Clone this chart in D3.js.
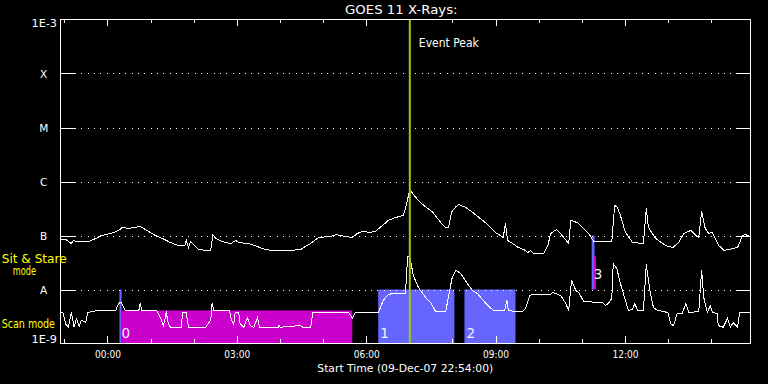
<!DOCTYPE html>
<html>
<head>
<meta charset="utf-8">
<script src="https://cdn.jsdelivr.net/npm/d3@7"></script>
<style>
  html, body { margin: 0; padding: 0; background: #000; }
  svg { display: block; }
  text { font-family: "DejaVu Sans", sans-serif; }
</style>
</head>
<body>
<svg id="chart" width="768" height="384"></svg>
<script>
// ---- Data (time in minutes after 09-Dec-07 22:54:00 UT, flux in W/m^2) ----
const title = "GOES 11 X-Rays:";
const xAxisTitle = "Start Time (09-Dec-07 22:54:00)";
const startUTC = Date.UTC(2007, 11, 9, 22, 54, 0);
const durationMinutes = 960;

const yTickValues = [1e-3, 1e-4, 1e-5, 1e-6, 1e-7, 1e-8, 1e-9];
const yTickLabels = ["1E-3", "X", "M", "C", "B", "A", "1E-9"];
const gridValues = [1e-4, 1e-5, 1e-6, 1e-7, 1e-8];

// long channel (1-8 A)
const longTimes = [0,8,11,15,18,22,39,49,57,70,81,86,95,103,111,118,125,132,142,153,164,173,175,178,181,188,192,202,209,212,216,225,237,244,248,262,271,281,292,306,320,334,341,348,359,376,383,397,406,413,420,431,438,448,456,466,477,481,486,490,498,508,518,529,536,540,544,550,554,564,573,591,605,616,619,622,629,637,647,650,654,658,672,678,682,690,698,707,710,715,721,726,735,742,761,767,771,775,779,786,796,811,815,818,828,842,852,860,867,877,884,888,892,897,902,907,916,923,935,942,949,953,960];
const longFlux = [8.4e-8,8.4e-8,7.7e-8,7.1e-8,8.1e-8,7.7e-8,7.7e-8,8.8e-8,1.0e-7,1.09e-7,1.24e-7,1.41e-7,1.35e-7,1.41e-7,1.47e-7,1.29e-7,1.14e-7,1.0e-7,8.8e-8,7.4e-8,6.5e-8,6.5e-8,8.1e-8,6.0e-8,7.7e-8,6.3e-8,5.5e-8,5.3e-8,5.3e-8,1.04e-7,8.8e-8,7.7e-8,7.1e-8,8.1e-8,7.4e-8,7.1e-8,6.5e-8,5.7e-8,5.3e-8,5.3e-8,5.3e-8,5.5e-8,6.3e-8,7.1e-8,9.2e-8,9.6e-8,1.04e-7,9.6e-8,9.2e-8,1.09e-7,1.19e-7,1.14e-7,1.19e-7,1.53e-7,1.9e-7,2.15e-7,2.35e-7,3.6e-7,7.1e-7,6.0e-7,4.4e-7,3.4e-7,2.7e-7,1.74e-7,1.41e-7,1.41e-7,2.7e-7,3.4e-7,3.75e-7,3.3e-7,2.7e-7,1.74e-7,1.14e-7,9.2e-8,1.67e-7,8.1e-8,7.1e-8,6.0e-8,5.3e-8,4.8e-8,5.3e-8,4.6e-8,4.6e-8,6.5e-8,1.09e-7,1.29e-7,1.0e-7,7.1e-8,1.9e-7,1.82e-7,1.67e-7,1.41e-7,1.09e-7,7.7e-8,7.7e-8,7.7e-8,3.6e-7,3.3e-7,2.35e-7,1.14e-7,7.4e-8,7.1e-8,3.2e-7,1.41e-7,8.8e-8,6.5e-8,6.0e-8,7.4e-8,1.09e-7,1.24e-7,1.0e-7,9.2e-8,2.8e-7,1.35e-7,1.09e-7,1.14e-7,6.5e-8,5.3e-8,5.7e-8,6.0e-8,1.0e-7,1.04e-7,9.6e-8];

// short channel (0.5-4 A)
const shortTimes = [0,4,7,11,15,19,22,26,29,35,38,43,53,77,78,82,85,88,90,109,111,113,134,139,143,146,147,150,153,168,170,175,178,202,205,209,211,213,235,238,241,243,248,250,255,260,264,269,274,277,303,304,306,334,337,348,351,401,406,410,442,445,449,456,462,480,481,483,486,487,491,498,508,515,522,536,540,545,550,557,563,573,580,591,602,618,621,623,633,643,647,653,657,682,685,696,703,707,711,717,721,728,754,758,762,767,769,774,779,786,790,796,799,803,811,815,820,825,831,845,849,853,858,865,870,874,888,892,895,900,904,907,914,915,922,928,932,936,942,945,960];
const shortFlux = [3.9e-9,3.6e-9,2.3e-9,2.0e-9,3.75e-9,2.0e-9,2.9e-9,2.1e-9,2.7e-9,2.45e-9,3.75e-9,3.9e-9,4.1e-9,4.1e-9,4.6e-9,5.7e-9,5.7e-9,4.6e-9,4.1e-9,4.1e-9,5.7e-9,4.1e-9,4.1e-9,3.0e-9,2.15e-9,3.0e-9,3.9e-9,2.3e-9,2.0e-9,2.0e-9,3.75e-9,3.75e-9,2.0e-9,2.0e-9,2.3e-9,2.7e-9,5.7e-9,4.1e-9,4.1e-9,2.7e-9,2.3e-9,3.75e-9,3.75e-9,2.3e-9,2.0e-9,3.0e-9,2.15e-9,2.0e-9,3.0e-9,2.0e-9,2.0e-9,2.15e-9,2.0e-9,2.15e-9,2.0e-9,2.0e-9,3.75e-9,3.75e-9,2.9e-9,3.75e-9,3.75e-9,4.6e-9,6.3e-9,8.1e-9,8.4e-9,8.4e-9,1.47e-8,4.1e-8,3.9e-8,3.4e-8,1.8e-8,1.09e-8,7.1e-9,5.7e-9,3.9e-9,3.9e-9,7.7e-9,1.67e-8,2.25e-8,1.98e-8,1.47e-8,9.6e-9,8.4e-9,5.7e-9,4.1e-9,4.1e-9,6.5e-9,4.1e-9,3.9e-9,3.9e-9,4.45e-9,7.7e-9,8.1e-9,8.1e-9,8.8e-9,7.7e-9,5.5e-9,4.1e-9,1.47e-8,9.6e-9,8.8e-9,6.0e-9,5.7e-9,5.05e-9,5.5e-9,6.8e-9,3.0e-8,2.45e-8,1.29e-8,6.3e-9,4.1e-9,4.3e-9,5.5e-9,4.1e-9,4.1e-9,2.9e-8,9.6e-9,4.6e-9,4.1e-9,3.75e-9,2.3e-9,2.15e-9,3.6e-9,3.6e-9,5.5e-9,3.75e-9,3.9e-9,2.25e-8,7.1e-9,3.75e-9,5.05e-9,3.75e-9,3.6e-9,2.15e-9,2.0e-9,2.9e-9,2.0e-9,2.45e-9,2.0e-9,3.75e-9,3.75e-9];

// observation modes: rows of the plot
const modeNames = ["scan", "sit"];
const modeLow = [1e-9, 1e-8];
const modeHigh = [1e-8, 1e-7];
const modeFilledTop = [4.1e-9, 4.1e-8];

// observation intervals (blue) and data coverage (magenta)
const obsLabels = ["0", "1", "2", "3"];
const obsMode = ["scan", "scan", "scan", "sit"];
const obsStart = [82, 442, 562, 739];
const obsEnd = [85, 548, 633, 743];
const fillMode = ["scan", "sit"];
const fillStart = [85, 742];
const fillEnd = [406, 745];

const eventPeakMinute = 486;
const eventLabel = "Event Peak";

// ---- Drawing ----
const svg = d3.select("#chart");
svg.append("rect").attr("width", 768).attr("height", 384).attr("fill", "#000");

const toDate = m => new Date(startUTC + m * 60000);
const x = d3.scaleUtc().domain([toDate(0), toDate(durationMinutes)]).range([60.5, 750.5]);
const y = d3.scaleLog().domain([1e-9, 1e-3]).range([343.5, 19.5]);

const blue = "#6666ff", magenta = "#cc00cc", peakColor = "#9ccc00";

// blue observation bands
svg.append("g").selectAll("rect").data(obsStart.map((s, i) => i)).join("rect")
  .attr("x", i => x(toDate(obsStart[i])))
  .attr("width", i => x(toDate(obsEnd[i])) - x(toDate(obsStart[i])))
  .attr("y", i => y(modeHigh[modeNames.indexOf(obsMode[i])]))
  .attr("height", i => { const m = modeNames.indexOf(obsMode[i]); return y(modeLow[m]) - y(modeHigh[m]); })
  .attr("fill", blue);

// magenta coverage bands
svg.append("g").selectAll("rect").data(fillStart.map((s, i) => i)).join("rect")
  .attr("x", i => x(toDate(fillStart[i])))
  .attr("width", i => x(toDate(fillEnd[i])) - x(toDate(fillStart[i])))
  .attr("y", i => y(modeFilledTop[modeNames.indexOf(fillMode[i])]))
  .attr("height", i => { const m = modeNames.indexOf(fillMode[i]); return y(modeLow[m]) - y(modeFilledTop[m]); })
  .attr("fill", magenta);

// band labels
svg.append("g").selectAll("text").data(obsLabels.map((s, i) => i)).join("text")
  .attr("x", i => x(toDate(obsStart[i])) + 2)
  .attr("y", i => obsMode[i] === "scan" ? y(modeLow[0]) - 6 : y(modeLow[1]) - 11)
  .attr("fill", "#f0f0ff").attr("font-size", 13.5)
  .text(i => obsLabels[i]);

// dotted grid lines
svg.append("g").selectAll("line").data(gridValues).join("line")
  .attr("x1", 75).attr("x2", 736)
  .attr("y1", d => Math.round(y(d)) + 0.5).attr("y2", d => Math.round(y(d)) + 0.5)
  .attr("stroke", "#fff").attr("stroke-width", 1).attr("stroke-dasharray", "1,5.3")
  .attr("shape-rendering", "crispEdges");

// major y ticks (left and right, inward)
const ticksG = svg.append("g").attr("stroke", "#fff").attr("shape-rendering", "crispEdges");
gridValues.forEach(v => {
  const yy = Math.round(y(v)) + 0.5;
  ticksG.append("line").attr("x1", 60).attr("x2", 75).attr("y1", yy).attr("y2", yy);
  ticksG.append("line").attr("x1", 736).attr("x2", 750).attr("y1", yy).attr("y2", yy);
});

// x ticks (hourly, top and bottom, inward)
const hours = d3.utcHour.range(toDate(0), toDate(durationMinutes));
hours.forEach(h => {
  const xx = Math.round(x(h) - 0.5) + 0.5;
  const len = h.getUTCHours() % 3 === 0 ? 7 : 4;
  ticksG.append("line").attr("x1", xx).attr("x2", xx).attr("y1", 343).attr("y2", 343 - len);
  ticksG.append("line").attr("x1", xx).attr("x2", xx).attr("y1", 19).attr("y2", 19 + len);
});

// flux curves
const line = d3.line().x(d => x(toDate(d[0]))).y(d => y(d[1]));
const longData = longTimes.map((t, i) => [t, longFlux[i]]);
const shortData = shortTimes.map((t, i) => [t, shortFlux[i]]);
[longData, shortData].forEach(data => {
  svg.append("path").datum(data).attr("d", line)
    .attr("fill", "none").attr("stroke", "#fff").attr("stroke-width", 1)
    .attr("stroke-linejoin", "miter").attr("shape-rendering", "crispEdges");
});

// event peak line
const px = x(toDate(eventPeakMinute));
svg.append("line").attr("x1", px).attr("x2", px).attr("y1", 19).attr("y2", 343)
  .attr("stroke", peakColor).attr("stroke-width", 2);
svg.append("text").attr("x", px + 9).attr("y", 46.5).attr("fill", "#fff")
  .attr("font-size", 12).attr("textLength", 60).attr("lengthAdjust", "spacingAndGlyphs")
  .text(eventLabel);

// frame
svg.append("rect").attr("x", 60.5).attr("y", 19.5).attr("width", 690).attr("height", 324)
  .attr("fill", "none").attr("stroke", "#fff").attr("shape-rendering", "crispEdges");

// y labels
svg.append("g").selectAll("text").data(yTickValues).join("text")
  .attr("x", (d, i) => (i === 0 || i === yTickValues.length - 1) ? 57 : 43.7)
  .attr("y", (d, i) => i === 0 ? y(d) + 7.3 : (i === yTickValues.length - 1 ? y(d) - 0.5 : y(d) + 4.5))
  .attr("text-anchor", (d, i) => (i === 0 || i === yTickValues.length - 1) ? "end" : "middle")
  .attr("fill", "#fff").attr("font-size", 10.5)
  .each(function (d, i) {
    if (i === 0 || i === yTickValues.length - 1) d3.select(this).attr("textLength", 25.5).attr("lengthAdjust", "spacingAndGlyphs");
  })
  .text((d, i) => yTickLabels[i]);

// x tick labels
const fmt = d3.utcFormat("%H:%M");
svg.append("g").selectAll("text").data(hours.filter(h => h.getUTCHours() % 3 === 0)).join("text")
  .attr("x", d => x(d)).attr("y", 358.3).attr("text-anchor", "middle")
  .attr("fill", "#fff").attr("font-size", 10)
  .attr("textLength", 26).attr("lengthAdjust", "spacingAndGlyphs")
  .text(d => fmt(d));

// axis title and chart title
svg.append("text").attr("x", 405.3).attr("y", 372.3).attr("text-anchor", "middle")
  .attr("fill", "#fff").attr("font-size", 11)
  .attr("textLength", 176).attr("lengthAdjust", "spacingAndGlyphs").text(xAxisTitle);
svg.append("text").attr("x", 401.3).attr("y", 14).attr("text-anchor", "middle")
  .attr("fill", "#fff").attr("font-size", 12.3)
  .attr("textLength", 112.5).attr("lengthAdjust", "spacingAndGlyphs").text(title);

// mode labels (yellow)
const modeText = [["Sit & Stare", 1.7, 262.5, 65], ["mode", 12.7, 275, 23.3], ["Scan mode", 1.7, 328.3, 53.3]];
svg.append("g").selectAll("text").data(modeText).join("text")
  .attr("x", d => d[1]).attr("y", d => d[2]).attr("fill", "#ffff00").attr("font-size", 11.5)
  .attr("textLength", d => d[3]).attr("lengthAdjust", "spacingAndGlyphs")
  .text(d => d[0]);
</script>
</body>
</html>
